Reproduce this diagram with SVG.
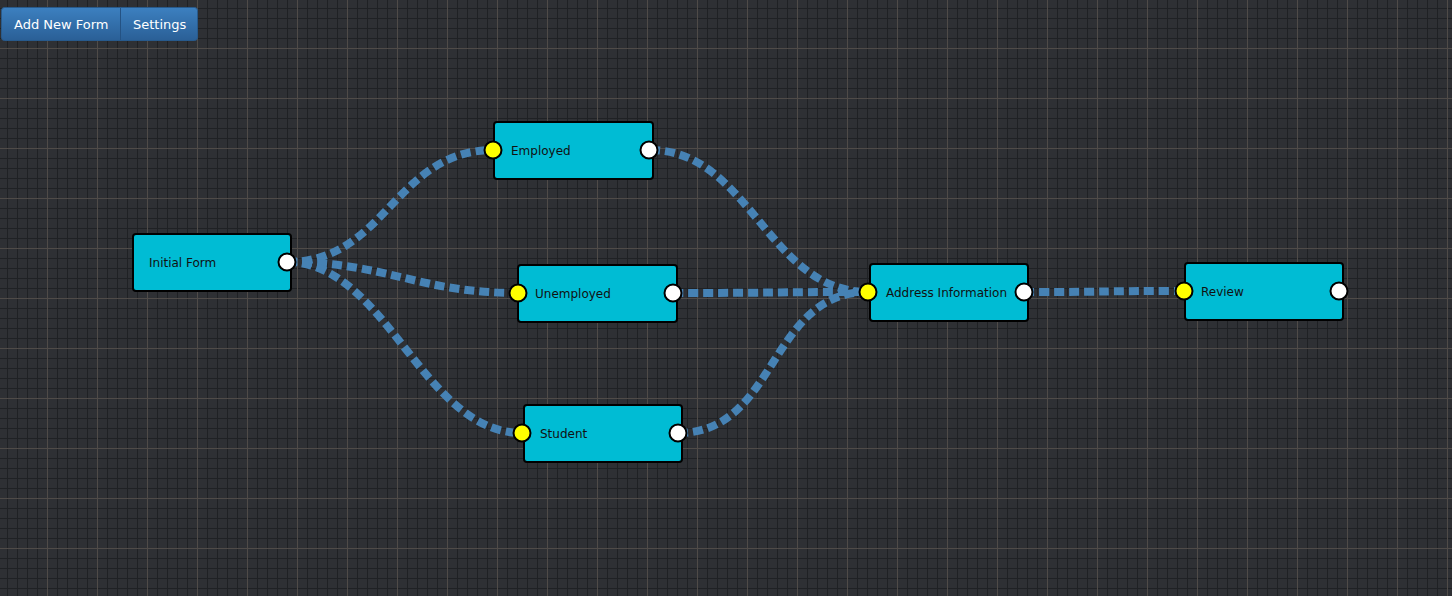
<svg xmlns="http://www.w3.org/2000/svg" width="1452" height="596" viewBox="0 0 1452 596">
<defs>
<pattern id="minor" patternUnits="userSpaceOnUse" x="7" y="8" width="10" height="10">
<path d="M0 0.5H10M0.5 0V10" stroke="#1f2124" stroke-width="1" fill="none"/>
</pattern>
<pattern id="major" patternUnits="userSpaceOnUse" x="47" y="48" width="50" height="50">
<path d="M0 0.5H50M0.5 0V50" stroke="#4f4b48" stroke-width="1" fill="none"/>
</pattern>
<linearGradient id="btn" x1="0" y1="0" x2="0" y2="1">
<stop offset="0" stop-color="#3c80c0"/>
<stop offset="1" stop-color="#2a5f96"/>
</linearGradient>
</defs>
<style>
.node rect{fill:#00bcd4;stroke:#000;stroke-width:2}
.node text{font-family:"DejaVu Sans",sans-serif;font-size:12px;fill:#111}
.in{fill:#ffff00;stroke:#000;stroke-width:2}
.out{fill:#fff;stroke:#000;stroke-width:2}
.conn path{fill:none;stroke:#4682b4;stroke-width:8;stroke-dasharray:10 5}
.btn text{font-family:"DejaVu Sans",sans-serif;font-size:13px;fill:#fff}
</style>
<rect width="1452" height="596" fill="#2e3034"/>
<rect width="1452" height="596" fill="url(#minor)"/>
<rect width="1452" height="596" fill="url(#major)"/>

<g id="toolbar" class="btn">
<rect x="1.5" y="7.5" width="196" height="33" rx="3" fill="url(#btn)" stroke="#285a8c"/>
<line x1="120.5" y1="8" x2="120.5" y2="40" stroke="#245283"/>
<text x="14" y="29">Add New Form</text>
<text x="133" y="29">Settings</text>
</g>

<g id="connectors" class="conn">
<path d="M287,262 C387,262 394,150 494,150"/>
<path d="M287,262 C387,262 418,293 518,293"/>
<path d="M287,262 C387,262 422,433 522,433"/>
<path d="M650,150 C750,150 768,292 868,292"/>
<path d="M673,293 C773,293 768,292 868,292"/>
<path d="M678,433 C778,433 768,292 868,292"/>
<path d="M1024,292 C1124,292 1083,291 1183,291"/>
</g>

<g id="initial-form" class="node">
<rect x="133" y="234" width="158" height="57" rx="3"/>
<text x="149" y="267">Initial Form</text>
<circle class="out" cx="287" cy="262" r="8.5"/>
</g>
<g id="employed" class="node">
<rect x="494" y="122" width="159" height="57" rx="3"/>
<text x="511" y="155">Employed</text>
<circle class="in" cx="493" cy="150" r="8.5"/>
<circle class="out" cx="649" cy="150" r="8.5"/>
</g>
<g id="unemployed" class="node">
<rect x="518" y="265" width="159" height="57" rx="3"/>
<text x="535" y="298">Unemployed</text>
<circle class="in" cx="518" cy="293" r="8.5"/>
<circle class="out" cx="673" cy="293" r="8.5"/>
</g>
<g id="student" class="node">
<rect x="524" y="405" width="158" height="57" rx="3"/>
<text x="540" y="438">Student</text>
<circle class="in" cx="522" cy="433" r="8.5"/>
<circle class="out" cx="678" cy="433" r="8.5"/>
</g>
<g id="address-information" class="node">
<rect x="870" y="264" width="158" height="57" rx="3"/>
<text x="886" y="297">Address Information</text>
<circle class="in" cx="868" cy="292" r="8.5"/>
<circle class="out" cx="1024" cy="292" r="8.5"/>
</g>
<g id="review" class="node">
<rect x="1185" y="263" width="158" height="57" rx="3"/>
<text x="1201" y="296">Review</text>
<circle class="in" cx="1184" cy="291" r="8.5"/>
<circle class="out" cx="1339" cy="291" r="8.5"/>
</g>
</svg>
